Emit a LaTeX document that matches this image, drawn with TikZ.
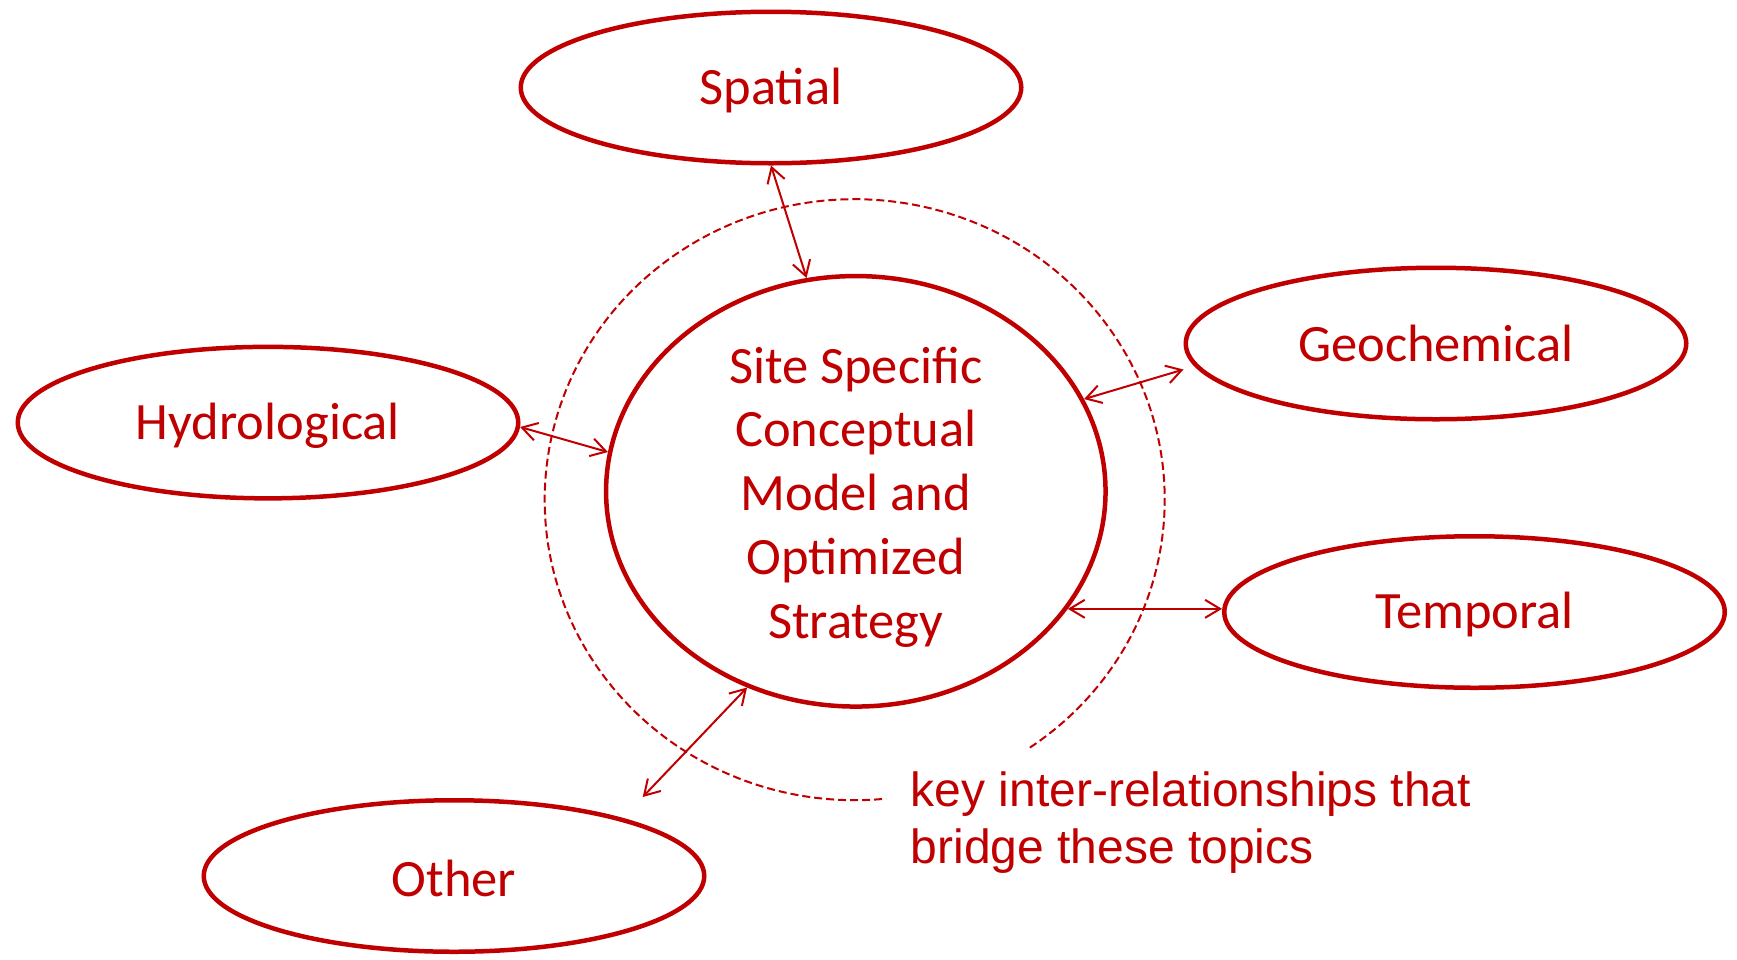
\documentclass[tikz,border=0pt]{standalone}
\usepackage{fontspec}
\setmainfont{Carlito}
\newfontfamily\keyfont{Liberation Sans}
\usetikzlibrary{arrows.meta,shapes.geometric}
\definecolor{dred}{RGB}{192,0,0}
\newcommand\lowlbl[1]{\raisebox{-3pt}[\height][\depth]{#1}}
\begin{document}
\begin{tikzpicture}[x=1pt,y=1pt,
  topic/.style={ellipse,draw=dred,line width=4.5pt,minimum width=500.5pt,minimum height=151.5pt,inner sep=0pt,text=dred,font=\fontsize{52.5}{63.7}\selectfont},
  link/.style={draw=dred,line width=2pt,{Straight Barb[length=15pt,width=18pt]}-{Straight Barb[length=15pt,width=18pt]}},
  ring/.style={draw=dred,line width=2pt,dash pattern=on 8pt off 4pt},
  plain/.style={text=dred,inner sep=0pt}
]
\useasboundingbox (0,0) rectangle (1737,-959);
% central ellipse
\node[topic, minimum width=499.5pt, minimum height=430.5pt] (core) at (855.8,-491.3) {};
\node[plain, align=center, font=\fontsize{52.5}{63.7}\selectfont] (coretext) at (855.8,-497) {Site Specific\\Conceptual\\Model and\\Optimized\\Strategy};
% topics
\node[topic] (spatial) at (771,-87.5) {\lowlbl{Spatial}};
\node[topic] (geo) at (1436,-343.5) {Geochemical};
\node[topic] (hydro) at (268,-422.6) {\lowlbl{Hydrological}};
\node[topic] (temporal) at (1474.5,-612) {\raisebox{-2pt}[\height][\depth]{Temporal}};
\node[topic] (other) at (454,-876) {\raisebox{-2pt}[\height][\depth]{Other}};
% dashed ring
\coordinate (ringc) at (854.7,-499.7);
\draw[ring] (ringc) ++(-55.6:310 and 300.5) arc[start angle=-55.6,end angle=275.8,x radius=310,y radius=300.5];
% links
\draw[link] (spatial.south) -- (core.103.7);
\draw[link] (hydro.-1) -- (core.171.4);
\draw[link] ([yshift=-26pt]geo.west) -- (core.22.5);
\draw[link] (core.-29.9) -- (core.-29.9 -| temporal.west);
\coordinate (otherend) at (642.7,-797);
\draw[link] (otherend) -- (core.-119.7);
% annotation
\node[plain, anchor=west, align=left, font=\keyfont\fontsize{48}{56.5}\selectfont] (key) at (910.6,-822.5) {key inter-relationships that\\bridge these topics};
\end{tikzpicture}
\end{document}
